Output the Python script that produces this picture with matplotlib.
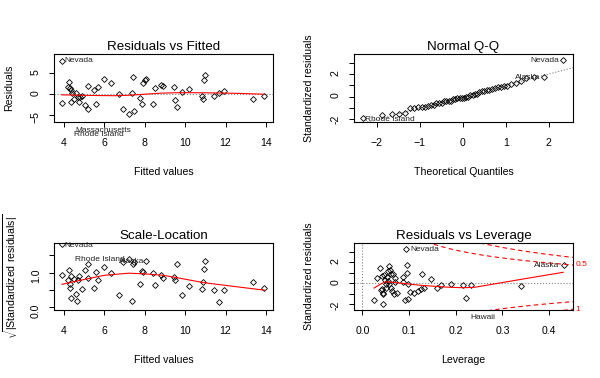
import numpy as np
import matplotlib
matplotlib.use("Agg")
import matplotlib.pyplot as plt
from statistics import NormalDist

plt.rcParams['font.family'] = ['Liberation Sans', 'DejaVu Sans']
plt.rcParams['mathtext.fontset'] = 'custom'
plt.rcParams['mathtext.rm'] = 'Liberation Sans'

# residuals vs fitted
fitted = [3.88, 3.88, 4.25, 4.2, 4.28, 4.33, 4.41, 4.36, 4.48, 4.61, 4.7, 4.75, 4.78, 4.9,
          5.04, 5.16, 5.17, 5.49, 5.57, 5.7, 5.99, 6.32, 6.72, 6.93, 7.23, 7.39, 7.34, 7.48,
          7.76, 7.84, 7.89, 8.0, 8.05, 8.42, 8.52, 8.8, 8.92, 9.46, 9.48, 9.61, 9.83, 10.2,
          10.85, 10.89, 10.94, 11.0, 11.43, 11.65, 11.93, 13.35, 13.9]
resid = [7.8, -2.0, 2.9, 1.6, 1.3, 0.9, 0.3, -1.8, -1.25, 0.15, -0.6, -1.8, -0.8, -0.4,
         -2.65, 1.9, -3.6, 0.9, -2.4, 1.7, 3.6, 2.5, -0.1, -3.5, -4.8, 4.0, 0.3, -4.0,
         -0.9, -2.4, 2.5, 3.3, 3.5, -2.3, 1.3, 2.2, 1.9, 1.7, -1.4, -3.1, 0.5, 1.1,
         -0.5, -1.2, 3.3, 4.4, -0.4, 0.15, 0.8, -1.1, -0.5]
rf_smooth_x = [3.88, 4.5, 5.5, 6.5, 7.2, 8.0, 8.8, 9.6, 10.5, 11.5, 12.6, 13.9]
rf_smooth_y = [-0.2, -0.25, -0.35, -0.4, -0.3, -0.05, 0.2, 0.3, 0.3, 0.25, 0.15, -0.05]

# scale-location
sl_fitted = [3.9, 3.88, 4.25, 4.2, 4.28, 4.28, 4.36, 4.36, 4.48, 4.61, 4.66, 4.71, 4.75, 4.88,
             5.04, 5.16, 5.17, 5.49, 5.57, 5.7, 5.99, 6.32, 6.72, 6.93, 7.23, 7.39, 7.34, 7.48,
             7.76, 7.84, 7.89, 8.05, 8.42, 8.52, 8.8, 8.92, 9.46, 9.48, 9.61, 9.83, 10.2,
             10.85, 10.89, 10.94, 11.0, 11.43, 11.65, 11.93, 13.35, 13.9]
sl_sqrt = [1.82, 0.93, 1.06, 0.77, 0.66, 0.56, 0.9, 0.28, 0.81, 0.38, 0.19, 0.77, 0.9, 0.52,
           1.06, 0.84, 1.25, 0.55, 1.02, 0.77, 1.17, 0.98, 0.36, 1.29, 1.39, 1.25, 0.19, 1.29,
           0.66, 1.04, 1.01, 1.32, 0.98, 0.63, 0.92, 0.84, 0.86, 0.79, 1.25, 0.34, 0.6,
           0.53, 0.72, 1.11, 1.32, 0.51, 0.16, 0.51, 0.73, 0.55]
sl_smooth_x = [3.9, 5.0, 6.0, 7.2, 8.0, 8.9, 9.6, 10.9, 12.4, 13.95]
sl_smooth_y = [0.66, 0.8, 0.92, 0.98, 0.96, 0.92, 0.85, 0.71, 0.6, 0.49]

# leverage / standardized residuals
leverage = [0.093, 0.025, 0.045, 0.031, 0.038, 0.041, 0.046, 0.052, 0.056, 0.059, 0.054, 0.05,
            0.061, 0.066, 0.069, 0.043, 0.044, 0.045, 0.062, 0.064, 0.068, 0.075, 0.057, 0.086,
            0.088, 0.096, 0.096, 0.098, 0.102, 0.091, 0.098, 0.111, 0.118, 0.125, 0.128, 0.132,
            0.146, 0.159, 0.169, 0.19, 0.215, 0.222, 0.233, 0.34, 0.431,
            0.048, 0.055, 0.039, 0.05, 0.07]
std_resid = [3.3, -1.62, -1.95, 0.53, 1.43, 0.7, 0.76, 0.6, 1.65, 1.24, 0.22, -0.1,
             0.86, 0.92, 0.53, -0.57, -0.9, -1.05, -0.42, -0.73, -1.05, -0.9, -0.04, 0.6,
             0.15, 1.74, 0.95, -0.04, -0.8, -1.55, -1.52, -0.9, -0.73, -0.57, 0.86, -0.42,
             0.38, -0.42, -0.19, -0.1, -0.16, -1.43, -0.16, -0.22, 1.79,
             0.28, 1.14, -0.6, -0.42, 0.15]
rl_smooth_x = [0.025, 0.04, 0.05, 0.075, 0.125, 0.18, 0.215, 0.24, 0.34, 0.43]
rl_smooth_y = [-0.45, -0.05, 0.15, 0.05, -0.19, -0.36, -0.42, -0.38, 0.38, 1.05]
n_params = 5
cook_levels = [0.5, 1]

mk = dict(marker='D', ms=3.0, mfc='none', mec='black', mew=0.6, ls='none')
tfs = 9.6
lfs = 7.6
ifs = 6.0

fig = plt.figure(figsize=(6, 3.78), dpi=100)
W = 219 / 600
ax1 = fig.add_axes([54 / 600, 1 - 122 / 378, W, 68 / 378])
ax2 = fig.add_axes([354 / 600, 1 - 122 / 378, W, 68 / 378])
ax3 = fig.add_axes([54 / 600, 1 - 310 / 378, W, 67 / 378])
ax4 = fig.add_axes([354 / 600, 1 - 310 / 378, W, 67 / 378])

for ax in (ax1, ax2, ax3, ax4):
    for s in ax.spines.values():
        s.set_linewidth(0.8)
    ax.tick_params(length=3.5, width=0.7, labelsize=lfs, pad=8)
    ax.tick_params(axis='y', labelrotation=90, pad=6)

# 1: residuals vs fitted
ax1.axhline(0, color='gray', ls=':', lw=0.8)
ax1.plot(fitted, resid, **mk)
ax1.plot(rf_smooth_x, rf_smooth_y, color='red', lw=0.8)
ax1.set_xlim(3.5, 14.35)
ax1.set_ylim(-6.56, 9.37)
ax1.set_xticks([4, 6, 8, 10, 12, 14])
ax1.set_yticks([-5, 0, 5])
ax1.set_title("Residuals vs Fitted", fontsize=tfs, pad=3)
ax1.set_xlabel("Fitted values", fontsize=lfs, labelpad=14)
ax1.set_ylabel("Residuals", fontsize=lfs, labelpad=12)
ax1.text(4.02, 7.8, "Nevada", fontsize=ifs, va='center', color='#222222')
ax1.text(4.58, -8.6, "Massachusetts", fontsize=ifs, va='center', clip_on=False, color='#222222')
ax1.text(4.48, -9.4, "Rhode Island", fontsize=ifs, va='center', clip_on=False, color='#222222')

# 2: normal Q-Q
rs = np.sort(np.array(std_resid))
n = len(rs)
nd = NormalDist()
theo = np.array([nd.inv_cdf((i + 0.5) / n) for i in range(n)])
yq = np.quantile(rs, [0.25, 0.75])
xq = np.array([nd.inv_cdf(0.25), nd.inv_cdf(0.75)])
slope = (yq[1] - yq[0]) / (xq[1] - xq[0])
inter = yq[0] - slope * xq[0]
ax2.axline((0, inter), slope=slope, color='gray', ls=':', lw=0.8)
ax2.plot(theo, rs, **mk)
ax2.set_xlim(-2.53, 2.56)
ax2.set_ylim(-2.27, 3.82)
ax2.set_xticks([-2, -1, 0, 1, 2])
ax2.set_yticks([-2, -1, 0, 1, 2, 3])
ax2.set_yticklabels(["-2", "", "0", "", "2", ""])
ax2.set_title("Normal Q-Q", fontsize=tfs, pad=3)
ax2.set_xlabel("Theoretical Quantiles", fontsize=lfs, labelpad=14)
ax2.set_ylabel("Standardized residuals", fontsize=lfs, labelpad=12)
ax2.text(2.24, 3.22, "Nevada", fontsize=ifs, va='center', ha='right', color='#222222')
ax2.text(1.8, 1.75, "Alaska", fontsize=ifs, va='center', ha='right', color='#222222')
ax2.text(-2.27, -2.03, "Rhode Island", fontsize=ifs, va='center', clip_on=False, color='#222222')

# 3: scale-location
ax3.plot(sl_fitted, sl_sqrt, **mk)
ax3.plot(sl_smooth_x, sl_smooth_y, color='red', lw=0.8)
ax3.set_xlim(3.5, 14.35)
ax3.set_ylim(-0.08, 1.85)
ax3.set_xticks([4, 6, 8, 10, 12, 14])
ax3.set_yticks([0, 0.5, 1.0, 1.5])
ax3.set_yticklabels(["0.0", "", "1.0", ""])
ax3.set_title("Scale-Location", fontsize=tfs, pad=3)
ax3.set_xlabel("Fitted values", fontsize=lfs, labelpad=14)
ax3.set_ylabel(r"$\sqrt{|\mathrm{Standardized\ residuals}|}$", fontsize=lfs, labelpad=8)
ax3.text(4.02, 1.77, "Nevada", fontsize=ifs, va='center', color='#222222')
ax3.text(4.53, 1.37, "Rhode Island", fontsize=ifs, va='center', color='#222222')
ax3.text(6.73, 1.32, "Alaska", fontsize=ifs, va='center', color='#222222')

# 4: residuals vs leverage
ax4.axhline(0, color='gray', ls=':', lw=0.8)
ax4.axvline(0, color='gray', ls=':', lw=0.8)
ax4.plot(leverage, std_resid, **mk)
ax4.plot(rl_smooth_x, rl_smooth_y, color='red', lw=0.8)
hh = np.linspace(min(leverage), 1, 101)
for cl in cook_levels:
    cy = np.sqrt(cl * n_params * (1 - hh) / hh)
    ax4.plot(hh, cy, color='red', ls=(0, (4, 3)), lw=0.8)
    ax4.plot(hh, -cy, color='red', ls=(0, (4, 3)), lw=0.8)
xmax = 0.451
ax4.set_xlim(-0.018, xmax)
ax4.set_ylim(-2.54, 3.84)
ax4.set_xticks([0.0, 0.1, 0.2, 0.3, 0.4])
ax4.set_xticklabels(["0.0", "0.1", "0.2", "0.3", "0.4"])
ax4.set_yticks([-2, -1, 0, 1, 2, 3])
ax4.set_yticklabels(["-2", "", "0", "", "2", ""])
ax4.set_title("Residuals vs Leverage", fontsize=tfs, pad=3)
ax4.set_xlabel("Leverage", fontsize=lfs, labelpad=14)
ax4.set_ylabel("Standardized residuals", fontsize=lfs, labelpad=12)
ax4.text(0.102, 3.2, "Nevada", fontsize=ifs, va='center', color='#222222')
ax4.text(0.422, 1.72, "Alaska", fontsize=ifs, va='center', ha='right', color='#222222')
ax4.text(0.231, -3.27, "Hawaii", fontsize=ifs, va='center', clip_on=False, color='#222222')
hr = 0.45
ax4.text(xmax + 0.006, np.sqrt(0.5 * n_params * (1 - hr) / hr), "0.5", fontsize=ifs,
         va='center', color='red', clip_on=False)
ax4.text(xmax + 0.006, -np.sqrt(1 * n_params * (1 - hr) / hr), "1", fontsize=ifs,
         va='center', color='red', clip_on=False)

fig.savefig("out.png", dpi=100)
